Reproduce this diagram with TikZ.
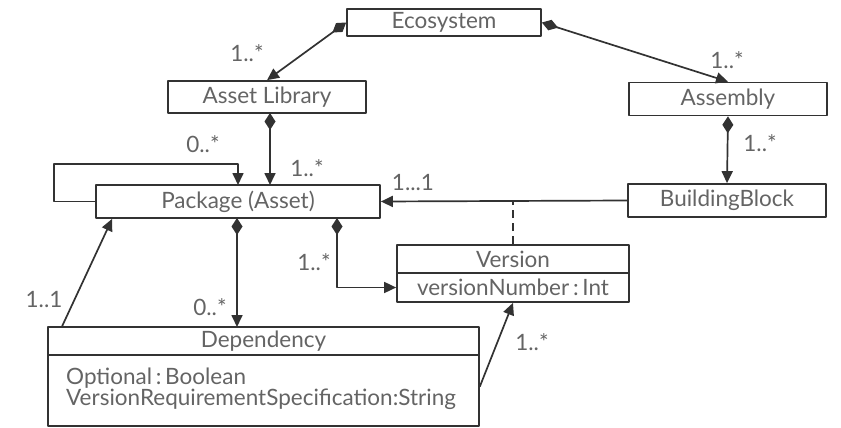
\documentclass[tikz,border=0pt]{standalone}
\usepackage{fontspec}
\setmainfont{Lato}
\usetikzlibrary{arrows.meta,calc}
\definecolor{linegray}{RGB}{50,50,50}
\definecolor{textgray}{RGB}{100,100,100}
\tikzset{
  klasse/.style={draw=linegray, line width=1.7pt, inner sep=0pt, text=textgray,
    font=\fontsize{22.5}{26}\selectfont},
  mult/.style={text=textgray, font=\fontsize{22.5}{26}\selectfont, inner sep=0pt},
  comp/.style={draw=linegray, line width=1.7pt,
    {Diamond[length=17pt,width=11pt]}-{Triangle[length=12pt,width=11pt]}},
  arr/.style={draw=linegray, line width=1.7pt, -{Triangle[length=12pt,width=11pt]}}
}
\begin{document}
\begin{tikzpicture}[x=1pt, y=-1pt, line cap=round, line join=round]
  \useasboundingbox (0,0) rectangle (841,428);
  % Các lớp
  \node[klasse, minimum width=194pt, minimum height=27pt] (eco) at (444,22.5) {Ecosystem};
  \node[klasse, minimum width=198pt, minimum height=32pt] (alib) at (267,97) {Asset Library};
  \node[klasse, minimum width=198pt, minimum height=33pt] (asm) at (728,99) {Assembly};
  \node[klasse, minimum width=284pt, minimum height=33pt] (pkg) at (238,201.5) {Package (Asset)};
  \node[klasse, minimum width=198pt, minimum height=33pt] (bb) at (727,200.5) {BuildingBlock};
  \node[klasse, minimum width=232pt, minimum height=28pt] (verhead) at (513,259) {Version};
  \node[klasse, minimum width=232pt, minimum height=29pt] (verattr) at (513,287.5) {versionNumber\,:\,Int};
  \node[klasse, minimum width=431pt, minimum height=28pt] (dephead) at (263.5,341) {Dependency};
  \node[klasse, minimum width=431pt, minimum height=71pt] (depattr) at (263.5,390.5) {};
  \node[mult, anchor=west] (opt) at (66,378) {Optional\,:\,Boolean};
  \node[mult, anchor=west] (vrs) at (66,399) {VersionRequirementSpecification:String};

  % Các điểm phụ
  \coordinate (alibout) at (270,113);
  \coordinate (pkgin) at (270,185);
  \coordinate (loopin) at (238,185);
  \coordinate (looptop) at (238,164);
  \coordinate (depout) at (237,218);
  \coordinate (depin) at (237,327);
  \coordinate (verout) at (337,218);
  \coordinate (asc) at (513,200.5);

  % Các quan hệ
  \draw[comp] (eco.west) -- (alib.north);
  \draw[comp] (eco.east) -- (asm.north);
  \draw[comp] (alibout) -- (pkgin);
  \draw[arr] (pkg.west) -- ++(-41,0) |- (looptop) -- (loopin);
  \draw[comp] (asm.south) -- (bb.north);
  \draw[arr] (bb.west) -- (pkg.east);
  \draw[draw=linegray, line width=1.7pt, line cap=butt, dash pattern=on 8pt off 5pt] (verhead.north) -- (asc);
  \draw[comp] (depout) -- (depin);
  \draw[comp] (verout) |- (verattr.west);
  \draw[arr] ($(dephead.north west)+(15,0)$) -- ($(pkg.south west)+(17,0)$);
  \draw[arr] ($(depattr.east)+(0,-4)$) -- (verattr.south);

  % Bội số
  \node[mult] (m1) at (247,53) {1..*};
  \node[mult] (m2) at (727,60) {1..*};
  \node[mult] (m3) at (203,144) {0..*};
  \node[mult] (m4) at (307,168) {1..*};
  \node[mult] (m5) at (760,143) {1..*};
  \node[mult] (m6) at (413,183) {1...1};
  \node[mult] (m7) at (314,262) {1..*};
  \node[mult] (m8) at (210,307) {0..*};
  \node[mult] (m9) at (44,300) {1..1};
  \node[mult] (m10) at (532,342) {1..*};
\end{tikzpicture}
\end{document}
